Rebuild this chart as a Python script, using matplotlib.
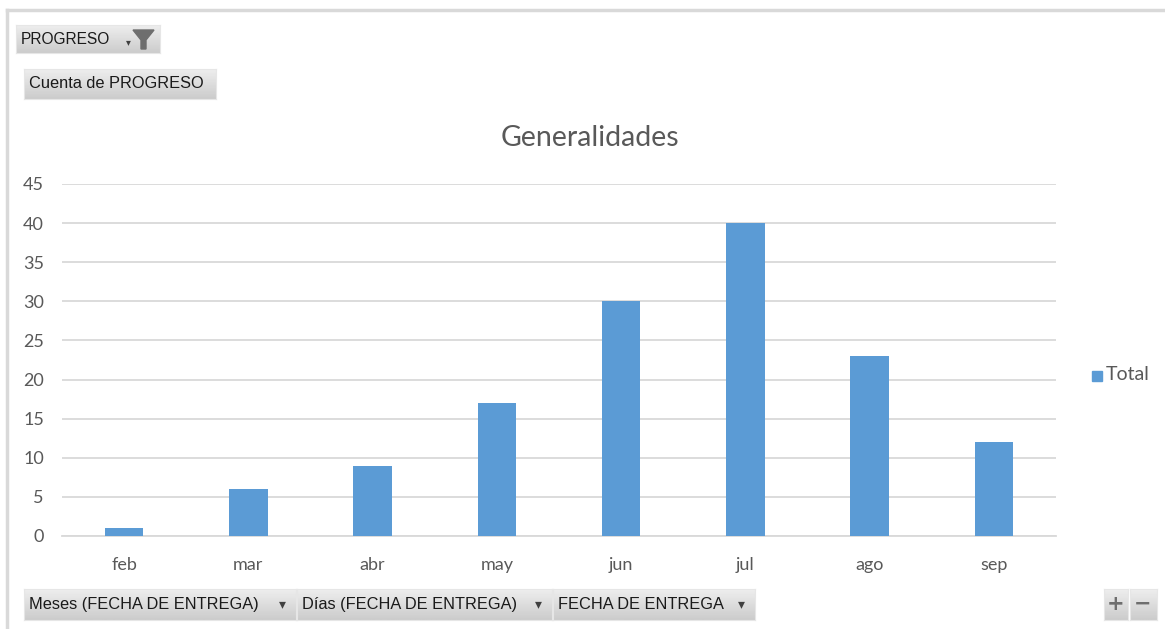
import numpy as np
import matplotlib.pyplot as plt
from matplotlib.patches import Rectangle, Polygon
from matplotlib.lines import Line2D

# data
meses = ['feb', 'mar', 'abr', 'may', 'jun', 'jul', 'ago', 'sep']
total = [1, 6, 9, 17, 30, 40, 23, 12]
yticks = [0, 5, 10, 15, 20, 25, 30, 35, 40, 45]

W, H = 1165, 629
plt.rcParams['font.family'] = ['Lato', 'DejaVu Sans']

fig = plt.figure(figsize=(W / 100, H / 100), dpi=100)
fig.patch.set_facecolor('white')


def fx(x):
    return x / W


def fy(y):
    return 1 - y / H


# outer frame lines (top and left)
fig.add_artist(Line2D([fx(7), fx(W)], [fy(10), fy(10)], color='#d9d9d9', lw=2.5))
fig.add_artist(Line2D([fx(7), fx(7)], [fy(10), fy(H)], color='#d9d9d9', lw=2.5))

# plot area
x0, x1, ytop, ybot = 62, 1056, 184, 536
ax = fig.add_axes([fx(x0), fy(ybot), fx(x1) - fx(x0), fy(ytop) - fy(ybot)])
xpos = np.arange(len(meses))
ax.bar(xpos, total, width=0.31, color='#5b9bd5', zorder=3, label='Total')
ax.set_xlim(-0.5, len(meses) - 0.5)
ax.set_ylim(0, 45)
ax.set_yticks(yticks)
ax.set_xticks(xpos)
ax.set_xticklabels(meses)
ax.grid(axis='y', color='#d9d9d9', lw=1.3, zorder=0)
for s in ['top', 'right', 'left']:
    ax.spines[s].set_visible(False)
ax.spines['bottom'].set_color('#d9d9d9')
ax.spines['bottom'].set_linewidth(1.3)
ax.tick_params(axis='both', length=0, colors='#595959', labelsize=13)
ax.tick_params(axis='y', pad=13)
ax.tick_params(axis='x', pad=15)

fig.text(fx(590), fy(138), 'Generalidades', ha='center', va='center',
         fontsize=20.5, color='#595959')

# legend
fig.add_artist(Rectangle((fx(1092), fy(381)), fx(10), 10 / H, color='#5b9bd5'))
fig.text(fx(1106), fy(375), 'Total', ha='left', va='center', fontsize=14, color='#595959')

# field buttons with gray gradient
grad = np.linspace(0.93, 0.80, 20).reshape(-1, 1)


def button(xa, ya, xb, yb, label, arrow=False, fs=11.5):
    bax = fig.add_axes([fx(xa), fy(yb), fx(xb) - fx(xa), fy(ya) - fy(yb)])
    bax.imshow(grad, aspect='auto', cmap='gray', vmin=0, vmax=1, extent=[0, 1, 0, 1])
    bax.set_xlim(0, 1)
    bax.set_ylim(0, 1)
    bax.set_xticks([])
    bax.set_yticks([])
    for s in bax.spines.values():
        s.set_color('#e6e6e6')
    if label:
        fig.text(fx(xa + 5), fy((ya + yb) / 2), label, ha='left', va='center',
                 fontsize=fs, color='#1a1a1a', family=['Liberation Sans'])
    if arrow:
        fig.text(fx(xb - 14), fy((ya + yb) / 2), '\u25be', ha='center', va='center',
                 fontsize=10, color='#404040', family='DejaVu Sans')
    return bax


button(16, 25, 160, 53, 'PROGRESO', fs=11.2)
# filter icon and small arrow
fig.text(fx(128), fy(42), '\u25be', ha='center', va='center', fontsize=7, color='#404040',
         family='DejaVu Sans')
fig.add_artist(Polygon([(fx(133), fy(30)), (fx(154), fy(30)), (fx(146), fy(40)),
                        (fx(146), fy(49)), (fx(141), fy(49)), (fx(141), fy(40))],
                       closed=True, color='#6e6e6e'))
button(24, 69, 216, 99, 'Cuenta de PROGRESO', fs=11.8)

button(24, 589, 296, 620, 'Meses (FECHA DE ENTREGA)', arrow=True, fs=11.8)
button(297, 589, 552, 620, 'D\u00edas (FECHA DE ENTREGA)', arrow=True, fs=11.8)
button(553, 589, 755, 620, 'FECHA DE ENTREGA', arrow=True, fs=11.8)

button(1104, 589, 1128, 620, '')
button(1130, 589, 1157, 620, '')
fig.text(fx(1116), fy(604), '+', ha='center', va='center', fontsize=15, color='#6e6e6e',
         family='DejaVu Sans', fontweight='bold')
fig.text(fx(1143), fy(604), '\u2212', ha='center', va='center', fontsize=15, color='#6e6e6e',
         family='DejaVu Sans', fontweight='bold')

fig.savefig('out.png', dpi=100)
